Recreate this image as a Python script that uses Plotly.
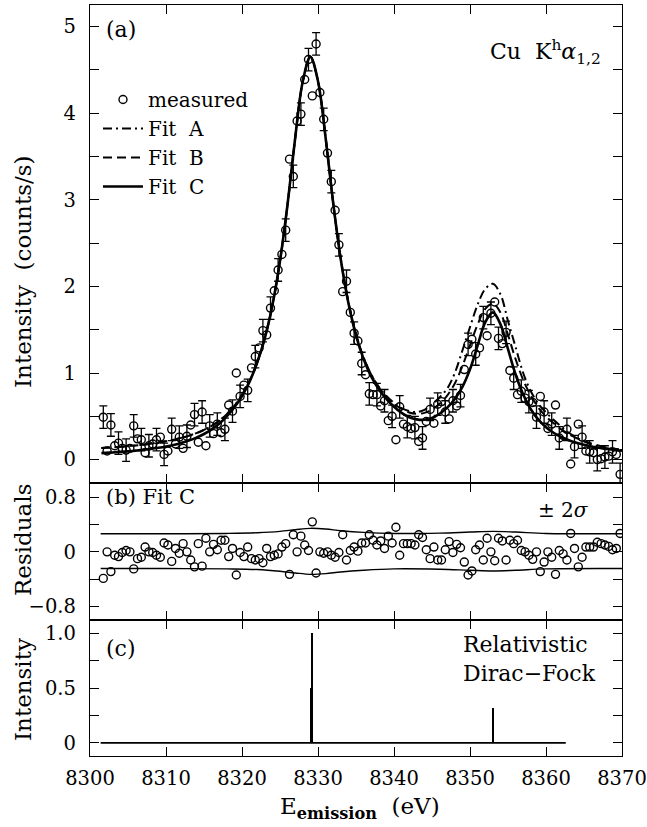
import plotly.graph_objects as go

# ---------------- data ----------------
meas_e = [
    8301.75, 8302.25, 8302.75, 8303.25, 8303.75, 8304.25, 8304.75, 8305.25, 8305.75, 8306.25,
    8306.75, 8307.25, 8307.75, 8308.25, 8308.75, 8309.25, 8309.75, 8310.25, 8310.75, 8311.25,
    8311.75, 8312.25, 8312.75, 8313.25, 8313.75, 8314.25, 8314.75, 8315.25, 8315.75, 8316.25,
    8316.75, 8317.25, 8317.75, 8318.25, 8318.75, 8319.25, 8319.75, 8320.25, 8320.75, 8321.25,
    8321.75, 8322.25, 8322.75, 8323.25, 8323.75, 8324.25, 8324.75, 8325.25, 8325.75, 8326.25,
    8326.75, 8327.25, 8327.75, 8328.25, 8328.75, 8329.25, 8329.75, 8330.25, 8330.75, 8331.25,
    8331.75, 8332.25, 8332.75, 8333.25, 8333.75, 8334.25, 8334.75, 8335.25, 8335.75, 8336.25,
    8336.75, 8337.25, 8337.75, 8338.25, 8338.75, 8339.25, 8339.75, 8340.25, 8340.75, 8341.25,
    8341.75, 8342.25, 8342.75, 8343.25, 8343.75, 8344.25, 8344.75, 8345.25, 8345.75, 8346.25,
    8346.75, 8347.25, 8347.75, 8348.25, 8348.75, 8349.25, 8349.75, 8350.25, 8350.75, 8351.25,
    8351.75, 8352.25, 8352.75, 8353.25, 8353.75, 8354.25, 8354.75, 8355.25, 8355.75, 8356.25,
    8356.75, 8357.25, 8357.75, 8358.25, 8358.75, 8359.25, 8359.75, 8360.25, 8360.75, 8361.25,
    8361.75, 8362.25, 8362.75, 8363.25, 8363.75, 8364.25, 8364.75, 8365.25, 8365.75, 8366.25,
    8366.75, 8367.25, 8367.75, 8368.25, 8368.75, 8369.25, 8369.75,
]
meas_i = [
    0.49, 0.10, 0.40, 0.16, 0.19, 0.13, 0.11, 0.13, 0.39, 0.24,
    0.23, 0.08, 0.16, 0.18, 0.23, 0.26, 0.06, 0.10, 0.35, 0.18,
    0.26, 0.13, 0.27, 0.40, 0.52, 0.20, 0.55, 0.16, 0.39, 0.30,
    0.41, 0.31, 0.35, 0.63, 0.56, 1.00, 0.73, 0.86, 0.80, 1.06,
    1.19, 1.29, 1.49, 1.44, 1.75, 1.95, 2.19, 2.37, 2.65, 3.47,
    3.27, 3.91, 3.99, 4.39, 4.62, 4.20, 4.80, 4.24, 3.93, 3.54,
    3.21, 2.88, 2.48, 1.94, 2.06, 1.70, 1.46, 1.37, 1.11, 0.98,
    0.76, 0.75, 0.75, 0.62, 0.68, 0.45, 0.50, 0.23, 0.61, 0.41,
    0.38, 0.36, 0.37, 0.21, 0.25, 0.44, 0.58, 0.42, 0.64, 0.67,
    0.55, 0.47, 0.68, 0.62, 0.74, 1.04, 1.33, 1.39, 1.22, 1.29,
    1.64, 1.43, 1.69, 1.82, 1.40, 1.34, 1.47, 1.03, 0.94, 0.75,
    0.79, 0.71, 0.67, 0.66, 0.49, 0.73, 0.55, 0.36, 0.41, 0.63,
    0.25, 0.28, 0.35, -0.05, 0.15, 0.41, 0.26, 0.10, 0.09, 0.08,
    0.00, 0.01, 0.03, 0.04, 0.09, 0.06, -0.17,
]
resid = [
    -0.39, 0.00, -0.29, -0.05, -0.07, -0.01, 0.02, 0.00, -0.25, -0.10,
    -0.08, 0.07, 0.00, -0.01, -0.05, -0.08, 0.13, 0.10, -0.14, 0.05,
    -0.02, 0.12, 0.00, -0.12, -0.22, 0.12, -0.21, 0.20, 0.00, 0.11,
    0.03, 0.17, 0.17, -0.07, 0.05, -0.34, -0.01, -0.07, 0.07, -0.10,
    -0.12, -0.10, -0.16, 0.05, -0.07, -0.05, -0.03, 0.07, 0.12, -0.33,
    0.25, 0.00, 0.23, 0.10, 0.02, 0.44, -0.31, 0.00, -0.02, 0.00,
    -0.05, -0.08, -0.01, 0.25, -0.12, 0.02, 0.07, 0.01, 0.13, 0.13,
    0.25, 0.17, 0.10, 0.16, 0.05, 0.23, 0.13, 0.36, -0.05, 0.12,
    0.12, 0.12, 0.10, 0.25, 0.21, 0.03, -0.10, 0.07, -0.12, -0.12,
    0.03, 0.15, -0.01, 0.11, 0.06, -0.15, -0.34, -0.28, 0.03, 0.10,
    -0.12, 0.20, 0.00, -0.13, 0.20, 0.16, -0.12, 0.17, 0.12, 0.17,
    0.02, 0.00, -0.05, -0.11, 0.00, -0.29, -0.15, 0.00, -0.08, -0.33,
    0.02, -0.03, -0.12, 0.27, 0.05, -0.22, -0.08, 0.07, 0.07, 0.07,
    0.14, 0.12, 0.10, 0.08, 0.03, 0.05, 0.27,
]
meas_sigma = 0.13

fit_e = [
    8301.5, 8302, 8303, 8304, 8305, 8306, 8307, 8308, 8309, 8310,
    8311, 8312, 8313, 8314, 8315, 8316, 8317, 8318, 8319, 8320,
    8321, 8322, 8323, 8324, 8325, 8326, 8327, 8328, 8329, 8330,
    8331, 8332, 8333, 8334, 8335, 8336, 8337, 8338, 8339, 8340,
    8341, 8342, 8343, 8344, 8345, 8346, 8347, 8348, 8349, 8350,
    8351, 8352, 8353, 8354, 8355, 8356, 8357, 8358, 8359, 8360,
    8361, 8362, 8363, 8364, 8365, 8366, 8367, 8368, 8369, 8370,
]
fit_a = [
    0.135, 0.138, 0.143, 0.149, 0.156, 0.164, 0.173, 0.184, 0.197, 0.212,
    0.230, 0.251, 0.276, 0.306, 0.343, 0.390, 0.448, 0.524, 0.622, 0.748,
    0.910, 1.122, 1.404, 1.784, 2.294, 2.952, 3.716, 4.37, 4.65, 4.37,
    3.72, 2.965, 2.32, 1.82, 1.45, 1.18, 0.985, 0.84, 0.735, 0.655,
    0.595, 0.56, 0.55, 0.575, 0.635, 0.72, 0.82, 1.00, 1.26, 1.53,
    1.79, 1.97, 2.03, 1.91, 1.60, 1.30, 1.00, 0.79, 0.645, 0.545,
    0.46, 0.38, 0.31, 0.255, 0.21, 0.175, 0.15, 0.132, 0.12, 0.11,
]
fit_b = [
    0.135, 0.138, 0.143, 0.149, 0.156, 0.164, 0.173, 0.184, 0.197, 0.212,
    0.230, 0.251, 0.276, 0.306, 0.343, 0.390, 0.448, 0.524, 0.622, 0.748,
    0.910, 1.122, 1.404, 1.784, 2.294, 2.952, 3.716, 4.37, 4.65, 4.37,
    3.72, 2.965, 2.32, 1.82, 1.45, 1.175, 0.98, 0.835, 0.73, 0.645,
    0.585, 0.545, 0.53, 0.54, 0.58, 0.645, 0.74, 0.88, 1.08, 1.32,
    1.56, 1.74, 1.80, 1.70, 1.44, 1.16, 0.92, 0.74, 0.60, 0.50,
    0.42, 0.35, 0.295, 0.25, 0.215, 0.185, 0.16, 0.14, 0.125, 0.115,
]
fit_c = [
    0.075, 0.078, 0.083, 0.089, 0.096, 0.104, 0.113, 0.124, 0.137, 0.152,
    0.170, 0.192, 0.220, 0.254, 0.296, 0.350, 0.415, 0.500, 0.605, 0.735,
    0.900, 1.122, 1.404, 1.784, 2.294, 2.952, 3.716, 4.37, 4.65, 4.37,
    3.719, 2.961, 2.310, 1.808, 1.435, 1.162, 0.961, 0.812, 0.702, 0.610,
    0.54, 0.49, 0.465, 0.46, 0.48, 0.53, 0.60, 0.70, 0.84, 1.043,
    1.316, 1.584, 1.70, 1.565, 1.276, 0.983, 0.752, 0.582, 0.461, 0.374,
    0.310, 0.261, 0.224, 0.195, 0.171, 0.152, 0.137, 0.123, 0.112, 0.102,
]

band_e = [8301.4, 8310, 8318, 8322, 8325, 8327, 8329, 8331, 8333, 8336,
          8340, 8346, 8350, 8353, 8356, 8360, 8370]
band_hi = [0.265, 0.265, 0.27, 0.28, 0.30, 0.325, 0.345, 0.335, 0.31, 0.285,
           0.27, 0.275, 0.29, 0.30, 0.29, 0.27, 0.265]
band_lo = [-0.245, -0.245, -0.25, -0.26, -0.285, -0.31, -0.33, -0.32, -0.295, -0.27,
           -0.25, -0.255, -0.27, -0.28, -0.27, -0.25, -0.245]

stick_e = [8329.05, 8329.22, 8353.0]
stick_i = [0.5, 1.0, 0.32]
stick_base_e = [8301.4, 8362.6]
stick_base_i = [0, 0]

x_ticks = [8300, 8310, 8320, 8330, 8340, 8350, 8360, 8370]
ya_major = [0, 1, 2, 3, 4, 5]
ya_minor = [0.5, 1.5, 2.5, 3.5, 4.5]
yb_major = [-0.8, 0, 0.8]
yb_text = ["\u22120.8", "0", "0.8"]
yb_minor = [-0.4, 0.4]
yc_major = [0, 0.5, 1.0]
yc_text = ["0", "0.5", "1.0"]
yc_minor = [0.25, 0.75]

# ---------------- figure ----------------
FONT = "DejaVu Serif"
W, H = 647, 827
ML, MR, MT, MB = 90, 25, 5, 71
PW, PH = W - ML - MR, H - MT - MB


def px(x):
    return (x - ML) / PW


def py(y):
    return (H - MB - y) / PH


fig = go.Figure()

# fits (panel a)
fig.add_trace(go.Scatter(x=fit_e, y=fit_c, mode="lines", name="Fit  C", legendrank=4,
                         line=dict(color="black", width=2.6, shape="spline"),
                         xaxis="x", yaxis="y"))
fig.add_trace(go.Scatter(x=fit_e, y=fit_b, mode="lines", name="Fit  B", legendrank=3,
                         line=dict(color="black", width=2.0, dash="9px,5px", shape="spline"),
                         xaxis="x", yaxis="y"))
fig.add_trace(go.Scatter(x=fit_e, y=fit_a, mode="lines", name="Fit  A", legendrank=2,
                         line=dict(color="black", width=2.0, dash="9px,4px,2px,4px", shape="spline"),
                         xaxis="x", yaxis="y"))
# error bars on every other measured point
fig.add_trace(go.Scatter(x=meas_e[::2], y=meas_i[::2], mode="markers", showlegend=False,
                         marker=dict(size=1, opacity=0),
                         error_y=dict(type="constant", value=meas_sigma, color="black",
                                      thickness=1.3, width=4),
                         hoverinfo="skip", xaxis="x", yaxis="y"))
fig.add_trace(go.Scatter(x=meas_e, y=meas_i, mode="markers", name="measured", legendrank=1,
                         marker=dict(symbol="circle-open", size=8, color="black",
                                     line=dict(width=1.4, color="black")),
                         xaxis="x", yaxis="y"))

# residuals (panel b)
fig.add_trace(go.Scatter(x=band_e, y=band_hi, mode="lines", showlegend=False,
                         line=dict(color="black", width=1.4, shape="spline"),
                         xaxis="x2", yaxis="y2"))
fig.add_trace(go.Scatter(x=band_e, y=band_lo, mode="lines", showlegend=False,
                         line=dict(color="black", width=1.4, shape="spline"),
                         xaxis="x2", yaxis="y2"))
fig.add_trace(go.Scatter(x=meas_e, y=resid, mode="markers", showlegend=False,
                         marker=dict(symbol="circle-open", size=8, color="black",
                                     line=dict(width=1.4, color="black")),
                         xaxis="x2", yaxis="y2"))

# stick spectrum (panel c)
fig.add_trace(go.Scatter(x=stick_base_e, y=stick_base_i, mode="lines", showlegend=False,
                         line=dict(color="black", width=1.6), xaxis="x3", yaxis="y3"))
fig.add_trace(go.Bar(x=stick_e, y=stick_i, width=0.2, showlegend=False,
                     marker=dict(color="black", line=dict(width=0)),
                     xaxis="x3", yaxis="y3"))

tickfont = dict(family=FONT, size=19.5, color="black")
common_x = dict(range=[8300, 8370], tickvals=x_ticks, ticks="inside", ticklen=9,
                tickwidth=1.3, tickcolor="black", showline=True, linewidth=1.3,
                linecolor="black", mirror="allticks", showgrid=False, zeroline=False,
                tickfont=tickfont, ticklabeloverflow="allow", automargin=False)
common_y = dict(ticks="inside", ticklen=9, tickwidth=1.3, tickcolor="black",
                showline=True, linewidth=1.3, linecolor="black", mirror="allticks",
                showgrid=False, zeroline=False, tickfont=tickfont, ticklabelstandoff=9,
                ticklabeloverflow="allow", automargin=False)


def minor(vals):
    return dict(tickvals=vals, ticks="inside", ticklen=9, tickwidth=1.3,
                tickcolor="black", showgrid=False)


dc = 136 / PH
db = (136 + 137) / PH

fig.update_layout(
    width=W, height=H,
    margin=dict(l=ML, r=MR, t=MT, b=MB, autoexpand=False),
    paper_bgcolor="white", plot_bgcolor="white",
    font=dict(family=FONT, size=20, color="black"),
    showlegend=True,
    legend=dict(x=px(98), y=py(80), xanchor="left", yanchor="top",
                font=dict(family=FONT, size=20, color="black"),
                bgcolor="rgba(0,0,0,0)", borderwidth=0, tracegroupgap=0,
                itemwidth=40),
    xaxis=dict(domain=[0, 1], anchor="y", showticklabels=False, **common_x),
    xaxis2=dict(domain=[0, 1], anchor="y2", showticklabels=False, matches="x", **common_x),
    xaxis3=dict(domain=[0, 1], anchor="y3", showticklabels=True, matches="x",
                ticklabelstandoff=4, **common_x),
    yaxis=dict(domain=[db, 1], anchor="x", range=[-0.27, 5.25],
               tickvals=ya_major, minor=minor(ya_minor), **common_y),
    yaxis2=dict(domain=[dc, db], anchor="x2", range=[-1.0, 1.01],
                tickvals=yb_major, ticktext=yb_text, minor=minor(yb_minor), **common_y),
    yaxis3=dict(domain=[0, dc], anchor="x3", range=[-0.12, 1.12],
                tickvals=yc_major, ticktext=yc_text, minor=minor(yc_minor), **common_y),
    bargap=0,
)


def ann(text, x, y, xanchor="left", yanchor="middle", size=22, angle=0, align="left"):
    fig.add_annotation(text=text, x=x, y=y, xref="paper", yref="paper",
                       xanchor=xanchor, yanchor=yanchor, showarrow=False,
                       textangle=angle, align=align,
                       font=dict(family=FONT, size=size, color="black"))


ann("(a)", px(104), py(30))
ann("Cu  K<sup>h</sup><i>\u03b1</i><sub>1,2</sub>", px(603), py(52), xanchor="right")
ann("(b) Fit C", px(104), py(497), size=21)
ann("\u00b1 2<i>\u03c3</i>", px(591), py(510), xanchor="right", size=20)
ann("(c)", px(104), py(648))
ann("Relativistic<br>Dirac\u2212Fock", px(461), py(659))
ann("Intensity  (counts/s)", px(23), py(272), xanchor="center", angle=-90, size=23)
ann("Residuals", px(23), py(540), xanchor="center", angle=-90, size=23)
ann("Intensity", px(23), py(690), xanchor="center", angle=-90, size=23)
ann("E<sub><b>emission</b></sub>  (eV)", px(360), py(808), xanchor="center", size=23)

fig.write_html("out.html")
